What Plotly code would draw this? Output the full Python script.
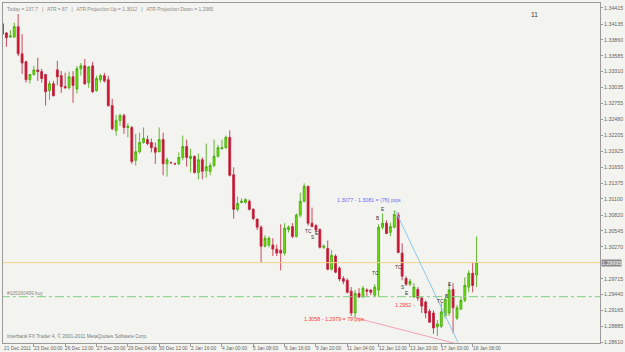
import plotly.graph_objects as go

# ---- data (4H candles) ----
opens = [1.3414,1.3398,1.3391,1.3391,1.3409,1.3362,1.3348,1.3317,1.3326,1.3334,
         1.3331,1.3326,1.3298,1.3310,1.3334,1.3324,1.3305,1.3303,1.3322,1.3301,
         1.3336,1.3341,1.3312,1.3341,1.3298,1.3317,1.3324,1.3317,1.3272,1.3229,
         1.3246,1.3255,1.3234,1.3234,1.3177,1.3192,1.3208,1.3213,1.3208,1.3199,
         1.3192,1.3213,1.3171,1.3173,1.3171,1.3171,1.3182,1.3201,1.3180,1.3184,
         1.3156,1.3178,1.3159,1.3158,1.3168,1.3184,1.3197,1.3199,1.3217,1.3152,
         1.3092,1.3104,1.3104,1.3106,1.3092,1.3075,1.3061,1.3028,1.3030,1.3030,
         1.3023,1.3021,1.3016,1.3057,1.3062,1.3045,1.3082,1.3106,1.3132,1.3068,
         1.3064,1.3057,1.3026,1.3024,1.2988,1.3011,1.2990,1.2972,1.2969,1.2950,
         1.2912,1.2946,1.2940,1.2952,1.2952,1.2943,1.2952,1.3061,1.3068,1.3052,
         1.3061,1.3082,1.3016,1.2972,1.2962,1.2940,1.2953,1.2938,1.2931,1.2915,
         1.2912,1.2888,1.2889,1.2907,1.2912,1.2953,1.2903,1.2919,1.2934,1.2957,
         1.2981,1.2978]
highs = [1.3436,1.3400,1.3403,1.3416,1.3431,1.3396,1.3350,1.3327,1.3341,1.3355,
         1.3336,1.3327,1.3315,1.3315,1.3350,1.3332,1.3329,1.3331,1.3332,1.3341,
         1.3346,1.3353,1.3341,1.3348,1.3324,1.3327,1.3329,1.3324,1.3284,1.3256,
         1.3258,1.3258,1.3241,1.3237,1.3223,1.3225,1.3234,1.3220,1.3215,1.3208,
         1.3234,1.3225,1.3182,1.3175,1.3173,1.3191,1.3220,1.3213,1.3197,1.3185,
         1.3189,1.3182,1.3206,1.3173,1.3213,1.3204,1.3213,1.3220,1.3229,1.3165,
         1.3114,1.3111,1.3111,1.3109,1.3094,1.3076,1.3064,1.3047,1.3045,1.3042,
         1.3031,1.3066,1.3068,1.3064,1.3068,1.3085,1.3121,1.3137,1.3133,1.3095,
         1.3066,1.3059,1.3031,1.3038,1.3021,1.3014,1.2993,1.2976,1.2972,1.2957,
         1.2952,1.2955,1.2959,1.2955,1.2953,1.2962,1.3066,1.3085,1.3073,1.3069,
         1.3090,1.3087,1.3033,1.2976,1.2971,1.2964,1.2957,1.2941,1.2934,1.2919,
         1.2917,1.2900,1.2929,1.2938,1.2964,1.2964,1.2926,1.2941,1.2974,1.2986,
         1.3000,1.3045]
lows  = [1.3390,1.3374,1.3390,1.3390,1.3358,1.3327,1.3312,1.3310,1.3324,1.3315,
         1.3312,1.3272,1.3282,1.3288,1.3307,1.3294,1.3301,1.3300,1.3277,1.3293,
         1.3324,1.3308,1.3303,1.3294,1.3296,1.3312,1.3312,1.3270,1.3229,1.3220,
         1.3237,1.3223,1.3217,1.3171,1.3168,1.3189,1.3206,1.3203,1.3191,1.3171,
         1.3191,1.3151,1.3149,1.3171,1.3169,1.3169,1.3177,1.3166,1.3156,1.3154,
         1.3144,1.3144,1.3147,1.3151,1.3165,1.3182,1.3196,1.3197,1.3149,1.3076,
         1.3088,1.3102,1.3102,1.3090,1.3073,1.3056,1.3000,1.3026,1.3026,1.3011,
         1.3011,1.2986,1.3012,1.3052,1.3042,1.3043,1.3078,1.3104,1.3064,1.3061,
         1.3052,1.3024,1.3023,1.2986,1.2986,1.2981,1.2967,1.2962,1.2946,1.2907,
         1.2903,1.2938,1.2938,1.2941,1.2943,1.2940,1.2940,1.3057,1.3049,1.3045,
         1.3059,1.3016,1.2969,1.2959,1.2959,1.2938,1.2933,1.2912,1.2903,1.2895,
         1.2876,1.2872,1.2886,1.2903,1.2907,1.2877,1.2900,1.2917,1.2931,1.2948,
         1.2948,1.2957]
closes = [1.3396,1.3390,1.3393,1.3409,1.3362,1.3346,1.3317,1.3326,1.3334,1.3331,
          1.3319,1.3296,1.3310,1.3289,1.3322,1.3305,1.3303,1.3322,1.3307,1.3336,
          1.3341,1.3310,1.3339,1.3296,1.3319,1.3324,1.3315,1.3272,1.3232,1.3246,
          1.3255,1.3234,1.3236,1.3175,1.3192,1.3208,1.3215,1.3206,1.3199,1.3191,
          1.3213,1.3171,1.3178,1.3173,1.3171,1.3182,1.3201,1.3182,1.3184,1.3156,
          1.3178,1.3158,1.3166,1.3168,1.3184,1.3199,1.3199,1.3217,1.3151,1.3092,
          1.3102,1.3106,1.3109,1.3092,1.3076,1.3061,1.3028,1.3042,1.3042,1.3023,
          1.3016,1.3016,1.3059,1.3061,1.3045,1.3082,1.3106,1.3132,1.3068,1.3062,
          1.3056,1.3026,1.3028,1.2988,1.3012,1.2983,1.2971,1.2967,1.2948,1.2912,
          1.2946,1.2940,1.2955,1.2950,1.2948,1.2957,1.3061,1.3068,1.3050,1.3062,
          1.3083,1.3017,1.2976,1.2962,1.2967,1.2957,1.2938,1.2924,1.2912,1.2896,
          1.2886,1.2893,1.2914,1.2936,1.2952,1.2921,1.2921,1.2934,1.2960,1.2981,
          1.2960,1.29995]

date_labels = ["21 Dec 2011", "23 Dec 00:00", "26 Dec 12:00", "27 Dec 20:00", "29 Dec 04:00",
               "30 Dec 12:00", "2 Jan 16:00", "4 Jan 00:00", "5 Jan 08:00", "6 Jan 16:00",
               "9 Jan 20:00", "11 Jan 04:00", "12 Jan 12:00", "13 Jan 20:00", "17 Jan 00:00",
               "18 Jan 08:00"]
date_label_idx = [0, 8, 16, 24, 32, 40, 48, 56, 64, 72, 80, 88, 96, 104, 112, 120]

price_ticks = [1.34415, 1.34135, 1.33860, 1.33585, 1.33310, 1.33035, 1.32755, 1.32480,
               1.32205, 1.31925, 1.31650, 1.31375, 1.31100, 1.30820, 1.30545, 1.30270,
               1.29715, 1.29440, 1.29165, 1.28885, 1.28610]

order_price = 1.29404          # "#105160499 buy"
trend_blue_idx = [100.25, 116.6]
trend_blue_price = [1.3090, 1.2856]
trend_pink_idx = [89.3, 130.0]
trend_pink_price = [1.2905, 1.2834]

sig_text = ["TC", "S", "E", "B", "E", "TC", "TC", "S", "E", "TC", "B", "E"]
sig_idx = [78.0, 79.0, 80.2, 95.8, 97.1, 95.1, 101.1, 102.1, 103.2, 111.7, 113.3, 114.0]
sig_price = [1.3054, 1.3043, 1.3050, 1.3076, 1.3092, 1.2981, 1.2991, 1.2957, 1.2946,
             1.2932, 1.2941, 1.2962]

x = list(range(len(opens)))
FONT = "Liberation Sans, Arial, sans-serif"
FS = 5.3
FSX = 4.8

fig = go.Figure()
fig.add_trace(go.Candlestick(
    x=x, open=opens, high=highs, low=lows, close=closes,
    increasing=dict(line=dict(color="#3fa800", width=0.8), fillcolor="#6fe010"),
    decreasing=dict(line=dict(color="#c2203a", width=0.8), fillcolor="#c8102e"),
    whiskerwidth=0, showlegend=False, hoverinfo="skip"))

last = closes[-1]
fig.add_trace(go.Scatter(x=[-5, 160], y=[last, last], mode="lines",
                         line=dict(color="#f2d58a", width=1), showlegend=False, hoverinfo="skip"))
fig.add_trace(go.Scatter(x=[-5, 160], y=[order_price, order_price], mode="lines",
                         line=dict(color="#7fcf7f", width=1, dash="dashdot"),
                         showlegend=False, hoverinfo="skip"))
fig.add_trace(go.Scatter(x=trend_blue_idx, y=trend_blue_price, mode="lines",
                         line=dict(color="#8cc8ee", width=1), showlegend=False, hoverinfo="skip"))
fig.add_trace(go.Scatter(x=trend_pink_idx, y=trend_pink_price, mode="lines",
                         line=dict(color="#f5a3b3", width=1), showlegend=False, hoverinfo="skip"))

ann = []
for t, i, p in zip(sig_text, sig_idx, sig_price):
    ann.append(dict(x=i, y=p, xref="x", yref="y", text=t, showarrow=False,
                    font=dict(size=4.8, color="#333", family=FONT)))
ann.append(dict(x=84.8, y=1.3109, xref="x", yref="y", xanchor="left",
                text="1.3077 - 1.3081 = (76) pips", showarrow=False,
                font=dict(size=FS, color="#6b6bff", family=FONT)))
ann.append(dict(x=76.4, y=1.2902, xref="x", yref="y", xanchor="left",
                text="1.3058 - 1.2979 = 79 pips", showarrow=False,
                font=dict(size=FS, color="#ff3b3b", family=FONT)))
ann.append(dict(x=99.6, y=1.2926, xref="x", yref="y", xanchor="left",
                text="1.2952 -", showarrow=False,
                font=dict(size=FS, color="#ff3b3b", family=FONT)))
ann.append(dict(x=135.9, y=1.3431, xref="x", yref="y", text="11", showarrow=False,
                font=dict(size=6.5, color="#333", family=FONT)))
ann.append(dict(x=0.004, y=order_price, xref="paper", yref="y", xanchor="left",
                yanchor="bottom", yshift=-1, text="#105160499 buy", showarrow=False,
                font=dict(size=FSX, color="#888", family=FONT)))
ann.append(dict(x=0.003, y=0.995, xref="paper", yref="paper", xanchor="left", yanchor="top",
                text="Today = 137.7   |   ATR = 87   |   ATR Projection Up = 1.3012   |   ATR Projection Down = 1.2965",
                showarrow=False, font=dict(size=4.9, color="#8a8a8a", family=FONT)))
ann.append(dict(x=0.003, y=0.005, xref="paper", yref="paper", xanchor="left", yanchor="bottom",
                text="Interbank FX Trader 4, © 2001-2011 MetaQuotes Software Corp.",
                showarrow=False, font=dict(size=4.9, color="#777", family=FONT)))
for lab, i in zip(date_labels, date_label_idx):
    if i == 0:
        ann.append(dict(x=0, y=0, xref="paper", yref="paper", xanchor="left", yanchor="top",
                        xshift=-1, yshift=-1, text=lab, showarrow=False,
                        font=dict(size=FSX, color="#666", family=FONT)))
    else:
        ann.append(dict(x=i, y=0, xref="x", yref="paper", xanchor="left", yanchor="top",
                        xshift=-2, yshift=-1, text=lab, showarrow=False,
                        font=dict(size=FSX, color="#666", family=FONT)))
ann.append(dict(x=1.0, y=last, xref="paper", yref="y", xanchor="left", xshift=1,
                text=f"{last:.5f}", showarrow=False, bgcolor="#8a8a8a",
                borderpad=0, font=dict(size=FS, color="#ffffff", family=FONT)))

fig.update_layout(
    width=625, height=352,
    margin=dict(l=2, r=18, t=2, b=9),
    paper_bgcolor="#f3f3ef", plot_bgcolor="#f3f3ef",
    annotations=ann, showlegend=False,
    xaxis=dict(range=[0.13, 152.5], rangeslider=dict(visible=False), showgrid=False,
               zeroline=False, showline=True, linecolor="#9a9a9a", linewidth=1, mirror=True,
               tickvals=date_label_idx, ticktext=[""] * len(date_label_idx),
               ticks="outside", ticklen=3, tickcolor="#9a9a9a", showticklabels=False),
    yaxis=dict(range=[1.28600, 1.34501], side="right", showgrid=False, zeroline=False,
               showline=True, linecolor="#9a9a9a", linewidth=1, mirror=True,
               tickvals=price_ticks, ticktext=[f"{v:.5f}" for v in price_ticks],
               ticks="outside", ticklen=2, tickcolor="#9a9a9a",
               tickfont=dict(size=FS, color="#666", family=FONT)),
)
fig.write_html("out.html")
